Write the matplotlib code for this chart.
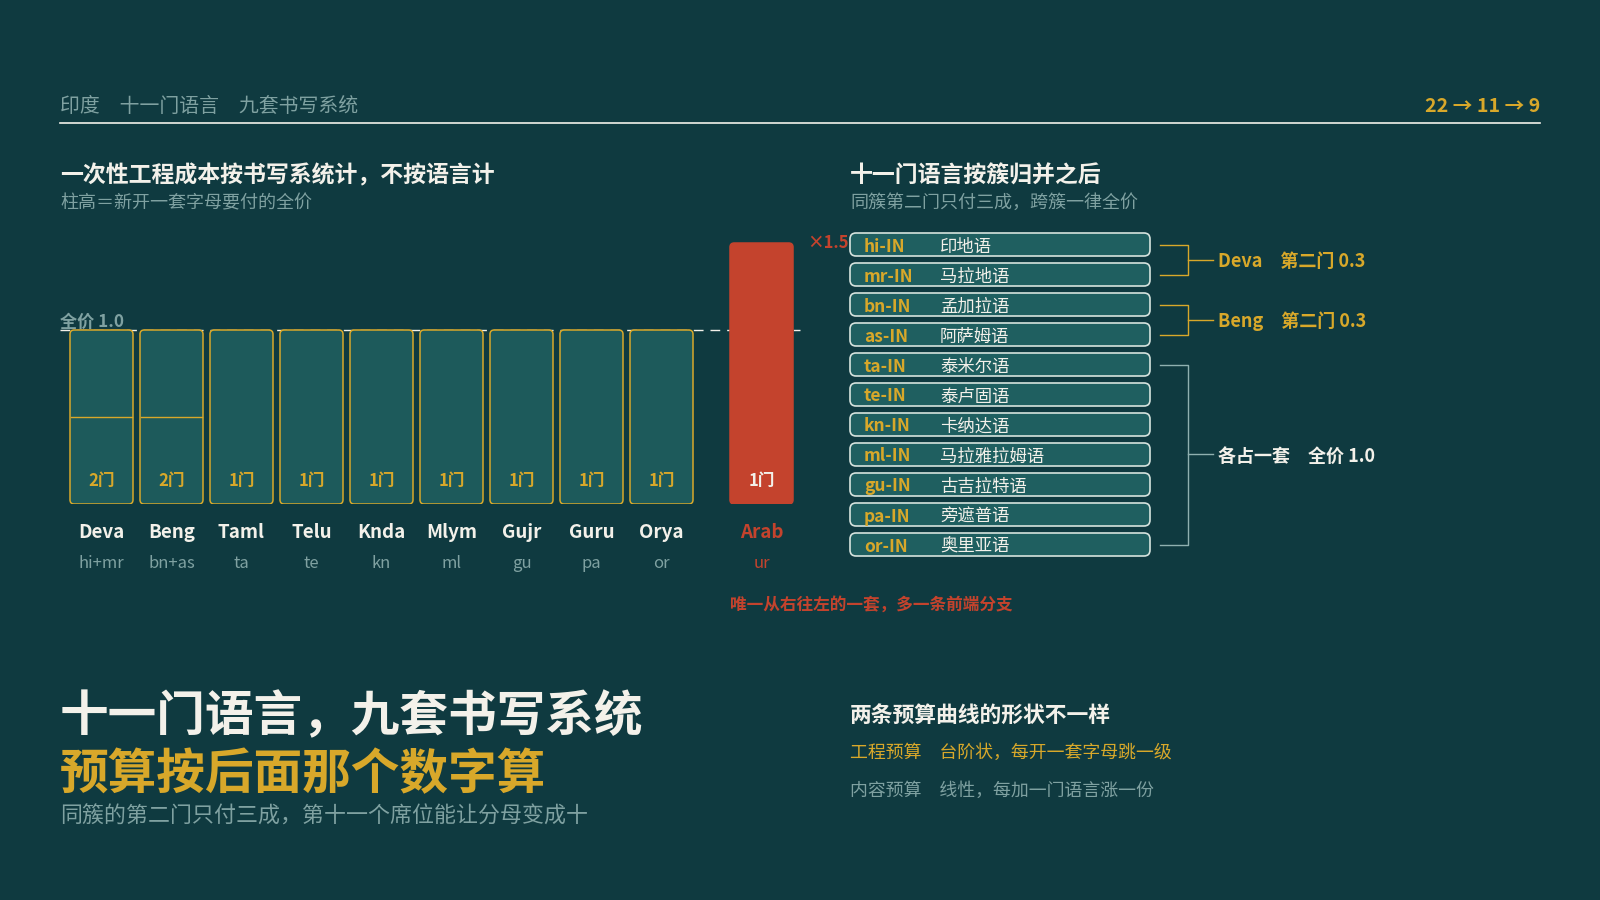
import matplotlib
matplotlib.use('Agg')
import matplotlib.pyplot as plt
from matplotlib.patches import FancyBboxPatch
import numpy as np

plt.rcParams['font.family'] = ['Noto Sans CJK SC', 'DejaVu Sans']

# ---------------- data ----------------
scripts = ['Deva', 'Beng', 'Taml', 'Telu', 'Knda', 'Mlym', 'Gujr', 'Guru', 'Orya', 'Arab']
script_langs = ['hi+mr', 'bn+as', 'ta', 'te', 'kn', 'ml', 'gu', 'pa', 'or', 'ur']
script_cost = [1.0, 1.0, 1.0, 1.0, 1.0, 1.0, 1.0, 1.0, 1.0, 1.5]
lang_count = [2, 2, 1, 1, 1, 1, 1, 1, 1, 1]
split_level = [0.5, 0.5, None, None, None, None, None, None, None, None]
full_price = 1.0
rtl_label = '×1.5'

lang_codes = ['hi-IN', 'mr-IN', 'bn-IN', 'as-IN', 'ta-IN', 'te-IN', 'kn-IN',
              'ml-IN', 'gu-IN', 'pa-IN', 'or-IN']
lang_names = ['印地语', '马拉地语', '孟加拉语', '阿萨姆语', '泰米尔语', '泰卢固语',
              '卡纳达语', '马拉雅拉姆语', '古吉拉特语', '旁遮普语', '奥里亚语']
cluster_first = [0, 2, 4]
cluster_last = [1, 3, 10]
cluster_labels = ['Deva　第二门 0.3', 'Beng　第二门 0.3', '各占一套　全价 1.0']

# ---------------- style ----------------
BG = '#0f3a40'
BAR = '#1d5a5b'
BOX = '#1f5f60'
GOLD = '#d8a82a'
RED = '#c4432d'
GRAY = '#7fa1a1'
WHITE = '#f3f1ea'
PX = 0.72  # points per pixel at dpi 100
DY = 3     # vertical text nudge in px

fig = plt.figure(figsize=(16, 9), dpi=100)
fig.patch.set_facecolor(BG)

bg = fig.add_axes([0, 0, 1, 1])
bg.set_xlim(0, 1600)
bg.set_ylim(900, 0)
bg.axis('off')
bg.set_facecolor(BG)

# header
bg.text(60, 104 + DY, '印度　十一门语言　九套书写系统', color=GRAY, fontsize=14.3, va='center', ha='left')
bg.text(1540, 103 + DY, '22 → 11 → 9', color=GOLD, fontsize=14.1, fontweight='bold', va='center', ha='right')
bg.plot([60, 1540], [122.5, 122.5], color=WHITE, lw=1.2)

# section titles
bg.text(60, 173 + DY, '一次性工程成本按书写系统计，不按语言计', color=WHITE, fontsize=16.5,
        fontweight='bold', va='center')
bg.text(60, 200 + DY, '柱高＝新开一套字母要付的全价', color=GRAY, fontsize=13, va='center')
bg.text(850, 173 + DY, '十一门语言按簇归并之后', color=WHITE, fontsize=16.5, fontweight='bold', va='center')
bg.text(850, 200 + DY, '同簇第二门只付三成，跨簇一律全价', color=GRAY, fontsize=13, va='center')

# bottom texts
bg.text(60, 714 + DY, '十一门语言，九套书写系统', color=WHITE, fontsize=35, fontweight='bold', va='center')
bg.text(60, 772 + DY, '预算按后面那个数字算', color=GOLD, fontsize=35, fontweight='bold', va='center')
bg.text(60, 814 + DY, '同簇的第二门只付三成，第十一个席位能让分母变成十', color=GRAY, fontsize=15.8, va='center')
bg.text(850, 712 + DY, '两条预算曲线的形状不一样', color=WHITE, fontsize=15.7, fontweight='bold', va='center')
bg.text(850, 750 + DY, '工程预算　台阶状，每开一套字母跳一级', color=GOLD, fontsize=12.9, va='center')
bg.text(850, 788 + DY, '内容预算　线性，每加一门语言涨一份', color=GRAY, fontsize=12.9, va='center')

# ---------------- bar chart ----------------
ax_l, ax_r, ax_b, px_per_unit, px_per_x = 60, 810, 504, 174, 70
ymax = 1.6
ax = fig.add_axes([ax_l / 1600, (900 - ax_b) / 900, (ax_r - ax_l) / 1600, ymax * px_per_unit / 900])
ax.axis('off')
first_center = 101.5
ax.set_xlim((ax_l - first_center) / px_per_x, (ax_r - first_center) / px_per_x)
ax.set_ylim(0, ymax)

xpos = np.array(list(range(9)) + [9 + 30 / 70])
w = 0.9
aspect = px_per_x / px_per_unit

# dashed full-price line
ax.axhline(full_price, xmin=0, xmax=(800 - ax_l) / (ax_r - ax_l), color=WHITE, lw=1.0,
           dashes=(7, 5), zorder=1)
ax.annotate('全价 1.0', xy=(ax.get_xlim()[0], full_price), xytext=(0, -0.5), textcoords='offset points',
            color=GRAY, fontsize=12.3, fontweight='bold', ha='left', va='bottom', zorder=5)

for i, (name, langs, c, n, sp) in enumerate(zip(scripts, script_langs, script_cost, lang_count, split_level)):
    x = xpos[i]
    is_rtl = c > full_price
    face = RED if is_rtl else BAR
    edge = RED if is_rtl else GOLD
    patch = FancyBboxPatch((x - w / 2, 0), w, c,
                           boxstyle='round,pad=0,rounding_size=0.06',
                           mutation_aspect=aspect, facecolor=face, edgecolor=edge,
                           lw=1.1, zorder=3)
    ax.add_patch(patch)
    if sp is not None:
        ax.plot([x - w / 2 + 0.02, x + w / 2 - 0.02], [sp, sp], color=GOLD, lw=1.0, zorder=4)
    ax.text(x, 0.13, f'{n}门', color=WHITE if is_rtl else GOLD, fontsize=12, fontweight='bold',
            ha='center', va='center', zorder=5)
    ax.annotate(name, xy=(x, 0), xytext=(0, -29 * PX), textcoords='offset points',
                color=RED if is_rtl else WHITE, fontsize=13.5, fontweight='bold',
                ha='center', va='center')
    ax.annotate(langs, xy=(x, 0), xytext=(0, -59 * PX), textcoords='offset points',
                color=RED if is_rtl else GRAY, fontsize=12, ha='center', va='center')
    if is_rtl:
        ax.annotate(rtl_label, xy=(x + w / 2, c), xytext=(10, 0), textcoords='offset points',
                    color=RED, fontsize=12, fontweight='bold', ha='left', va='center')
        ax.annotate('唯一从右往左的一套，多一条前端分支', xy=(x - w / 2, 0),
                    xytext=(0, -101 * PX), textcoords='offset points',
                    color=RED, fontsize=12, fontweight='bold', ha='left', va='center')

# ---------------- language list ----------------
L_left, L_right, L_top, L_bot = 840, 1400, 229, 560
row_px = 30
first_row_px = 244.5
lx = fig.add_axes([L_left / 1600, (900 - L_bot) / 900, (L_right - L_left) / 1600, (L_bot - L_top) / 900])
lx.axis('off')
lx.set_xlim(L_left, L_right)
lx.set_ylim((L_bot - first_row_px) / row_px, (L_top - first_row_px) / row_px)

box_h = 23 / row_px
tdy = 2 / row_px
for i, (code, nm) in enumerate(zip(lang_codes, lang_names)):
    p = FancyBboxPatch((850, i - box_h / 2), 300, box_h,
                       boxstyle='round,pad=0,rounding_size=6',
                       mutation_aspect=1 / row_px, facecolor=BOX, edgecolor='#d6e4de', lw=1.2, zorder=2)
    lx.add_patch(p)
    lx.text(864, i + tdy, code, color=GOLD, fontsize=12.5, fontweight='bold', ha='left', va='center', zorder=3)
    lx.text(940, i + tdy, nm, color=WHITE, fontsize=12.5, ha='left', va='center', zorder=3)

for a, b, lab in zip(cluster_first, cluster_last, cluster_labels):
    col = GOLD if 'Deva' in lab or 'Beng' in lab else '#8fb0b0'
    tcol = GOLD if col == GOLD else WHITE
    lx.plot([1160, 1188, 1188, 1160], [a, a, b, b], color=col, lw=1.0)
    m = (a + b) / 2
    lx.plot([1188, 1213], [m, m], color=col, lw=1.0)
    lx.text(1218, m + tdy, lab, color=tcol, fontsize=13, fontweight='bold', ha='left', va='center')

fig.savefig('out.png', dpi=100, facecolor=BG)
